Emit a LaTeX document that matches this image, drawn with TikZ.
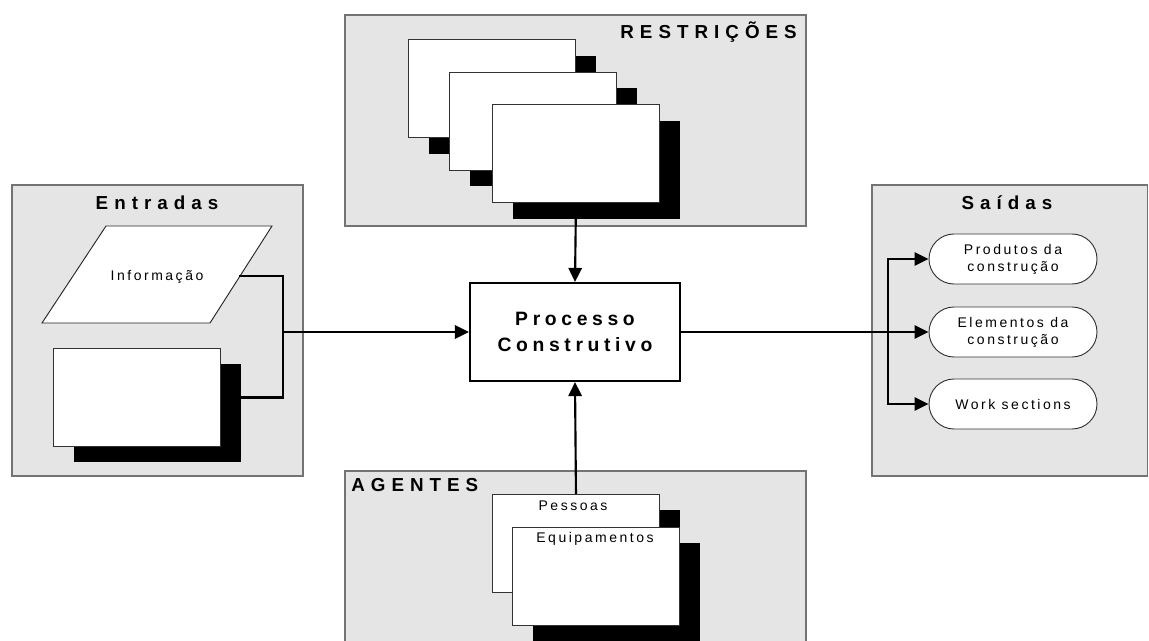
\documentclass[tikz,border=0pt]{standalone}
\usepackage{fontspec}
\setmainfont{Liberation Sans}
\newfontfamily\headfont[LetterSpace=32]{Liberation Sans}
\newfontfamily\procfont[LetterSpace=24]{Liberation Sans}
\newfontfamily\labelfont[LetterSpace=18]{Liberation Sans}
\usetikzlibrary{arrows.meta,shapes.misc}

\tikzset{
  panel/.style={fill=black!10, draw=black!55, line width=1pt},
  sheet/.style={draw=black!80, fill=white, line width=0.7pt, inner sep=0pt,
    minimum width=125.25pt, minimum height=73.5pt, anchor=north west},
  sheetshade/.style={sheet, fill=black, draw=none},
  link/.style={line width=1.6pt},
  arr/.style={link, -{Triangle[length=10.5pt,width=10pt]}},
  pill/.style={rounded rectangle, draw=black!80, fill=white, line width=0.7pt,
    minimum width=126pt, minimum height=37.5pt, inner sep=0pt, align=center,
    font=\labelfont\fontsize{10.5}{12.75}\selectfont},
  txt/.style={inner sep=0pt, font=\labelfont\fontsize{10.5}{12.75}\selectfont},
  head/.style={inner sep=0pt, font=\headfont\bfseries\fontsize{14.1}{16}\selectfont},
  procbox/.style={draw, fill=white, line width=1.6pt, inner sep=0pt,
    minimum width=157.5pt, minimum height=73.5pt, align=center,
    font=\procfont\bfseries\fontsize{14.5}{20}\selectfont}
}

\begin{document}
\begin{tikzpicture}[x=0.75pt, y=-0.75pt]
\useasboundingbox (0,0) rectangle (1149,641);

% --- RESTRIÇÕES panel with stacked sheets
\draw[panel] (345,15) rectangle (806,226);
\node[head, anchor=east] (thr) at (797,32) {RESTRIÇÕES};
\node[sheetshade] (r1s) at (429,56) {};
\node[sheet] (r1) at (408,39) {};
\node[sheetshade] (r2s) at (470,88) {};
\node[sheet] (r2) at (449,72) {};
\node[sheetshade] (r3s) at (513,121) {};
\node[sheet] (r3) at (492,104) {};

% --- Entradas panel
\draw[panel] (12,185) rectangle (303,476);
\node[head] (the) at (157,203) {Entradas};
\draw[draw=black!85, fill=white, line width=0.7pt]
  (106,226) -- (272,226) -- (210,323) -- (42,323) -- cycle;
\node[txt] (info) at (157,277) {Informação};
\coordinate (info-r) at (239,276);
\node[sheetshade] (e1s) at (74,364) {};
\node[sheet] (e1) at (53,348) {};

% --- Saídas panel
\draw[panel] (872,185) rectangle (1147.5,476);
\node[head] (ths) at (1007,203) {Saídas};
\node[pill] (o1) at (1013,259) {Produtos da\\construção};
\node[pill] (o2) at (1013,332) {Elementos da\\construção};
\node[pill] (o3) at (1013,404) {Work sections};

% --- AGENTES panel (runs off the lower edge)
\fill[black!10] (345,471) rectangle (806,641);
\draw[draw=black!55, line width=1pt] (345,641) -- (345,471) -- (806,471) -- (806,641);
\node[head, anchor=west] (tha) at (351,485) {AGENTES};
\node[sheetshade] (ps) at (513,510) {};
\node[sheet] (p) at (492,494) {};
\node[txt] (pt) at (573,506) {Pessoas};
\node[sheetshade] (qs) at (533,543) {};
\node[sheet] (q) at (512,527) {};
\node[txt] (qt) at (595,539) {Equipamentos};

% --- central process
\node[procbox] (proc) at (575,332) {Processo\\Construtivo};

% --- connectors
\draw[arr] (r3.south) -- (proc.north);
\draw[arr] (p.north) -- (proc.south);
\coordinate (junc) at (283,332);
\draw[link] (info-r) -| (junc) |- (e1.east);
\draw[arr] (junc) -- (proc.west);
\coordinate (split) at (888,332);
\draw[arr] (proc.east) -- (o2.west);
\draw[arr] (split) |- (o1.west);
\draw[arr] (split) |- (o3.west);
\end{tikzpicture}
\end{document}
